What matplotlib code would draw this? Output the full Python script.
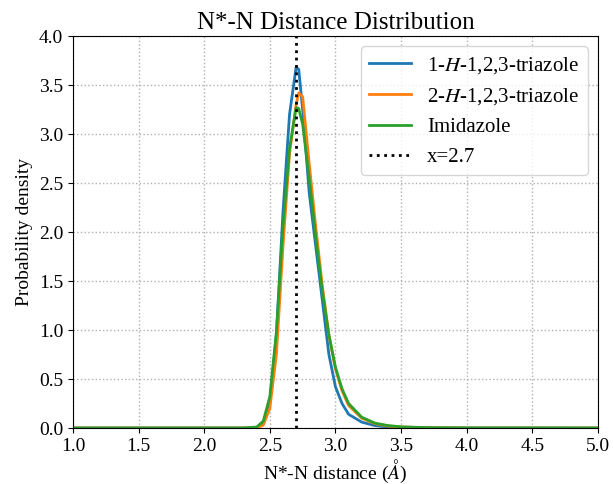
import numpy as np
import matplotlib.pyplot as plt

plt.rcParams.update({
    "font.family": "serif",
    "font.serif": ["Liberation Serif", "DejaVu Serif"],
    "mathtext.fontset": "stix",
    "font.size": 14,
})

# distance grid (Å) and densities
dist = [1.0, 2.3, 2.4, 2.45, 2.5, 2.55, 2.6, 2.65, 2.7, 2.72, 2.75, 2.8,
        2.85, 2.9, 2.95, 3.0, 3.05, 3.1, 3.2, 3.3, 3.4, 3.5, 3.7, 4.0, 5.0]
triazole_1h = [0, 0, 0.005, 0.05, 0.27, 0.95, 2.2, 3.2, 3.68, 3.66, 3.25, 2.4,
               1.85, 1.3, 0.75, 0.42, 0.25, 0.14, 0.06, 0.025, 0.01, 0.005, 0.001, 0, 0]
triazole_2h = [0, 0, 0.002, 0.03, 0.2, 0.75, 1.85, 2.8, 3.3, 3.42, 3.38, 2.7,
               2.05, 1.45, 0.95, 0.6, 0.38, 0.23, 0.1, 0.045, 0.02, 0.01, 0.003, 0, 0]
imidazole = [0, 0, 0.01, 0.07, 0.32, 0.98, 2.05, 2.85, 3.27, 3.26, 3.1, 2.55,
             1.95, 1.4, 0.95, 0.62, 0.4, 0.25, 0.11, 0.05, 0.025, 0.012, 0.004, 0.001, 0]
x_mark = 2.7

fig, ax = plt.subplots(figsize=(6.13, 4.84), dpi=100)
fig.subplots_adjust(left=0.119, right=0.9755, top=0.9256, bottom=0.1157)

ax.plot(dist, triazole_1h, color="#1f77b4", lw=2, label="1-$H$-1,2,3-triazole")
ax.plot(dist, triazole_2h, color="#ff7f0e", lw=2, label="2-$H$-1,2,3-triazole")
ax.plot(dist, imidazole, color="#2ca02c", lw=2, label="Imidazole")
ax.axvline(x_mark, color="black", linestyle=":", lw=2, label=f"x={x_mark}")

ax.set_xlim(1.0, 5.0)
ax.set_ylim(0, 4.0)
ax.set_xticks(np.arange(1.0, 5.01, 0.5))
ax.set_yticks(np.arange(0, 4.01, 0.5))
ax.grid(True, linestyle=":", color="#b0b0b0", lw=1)
ax.set_xlabel(r"N*-N distance ($\mathit{Å}$)", labelpad=2)
ax.set_ylabel("Probability density")
ax.set_title("N*-N Distance Distribution", fontsize=18, pad=5)
ax.legend(loc="upper right", fontsize=15)

fig.savefig("out.png", dpi=100)
